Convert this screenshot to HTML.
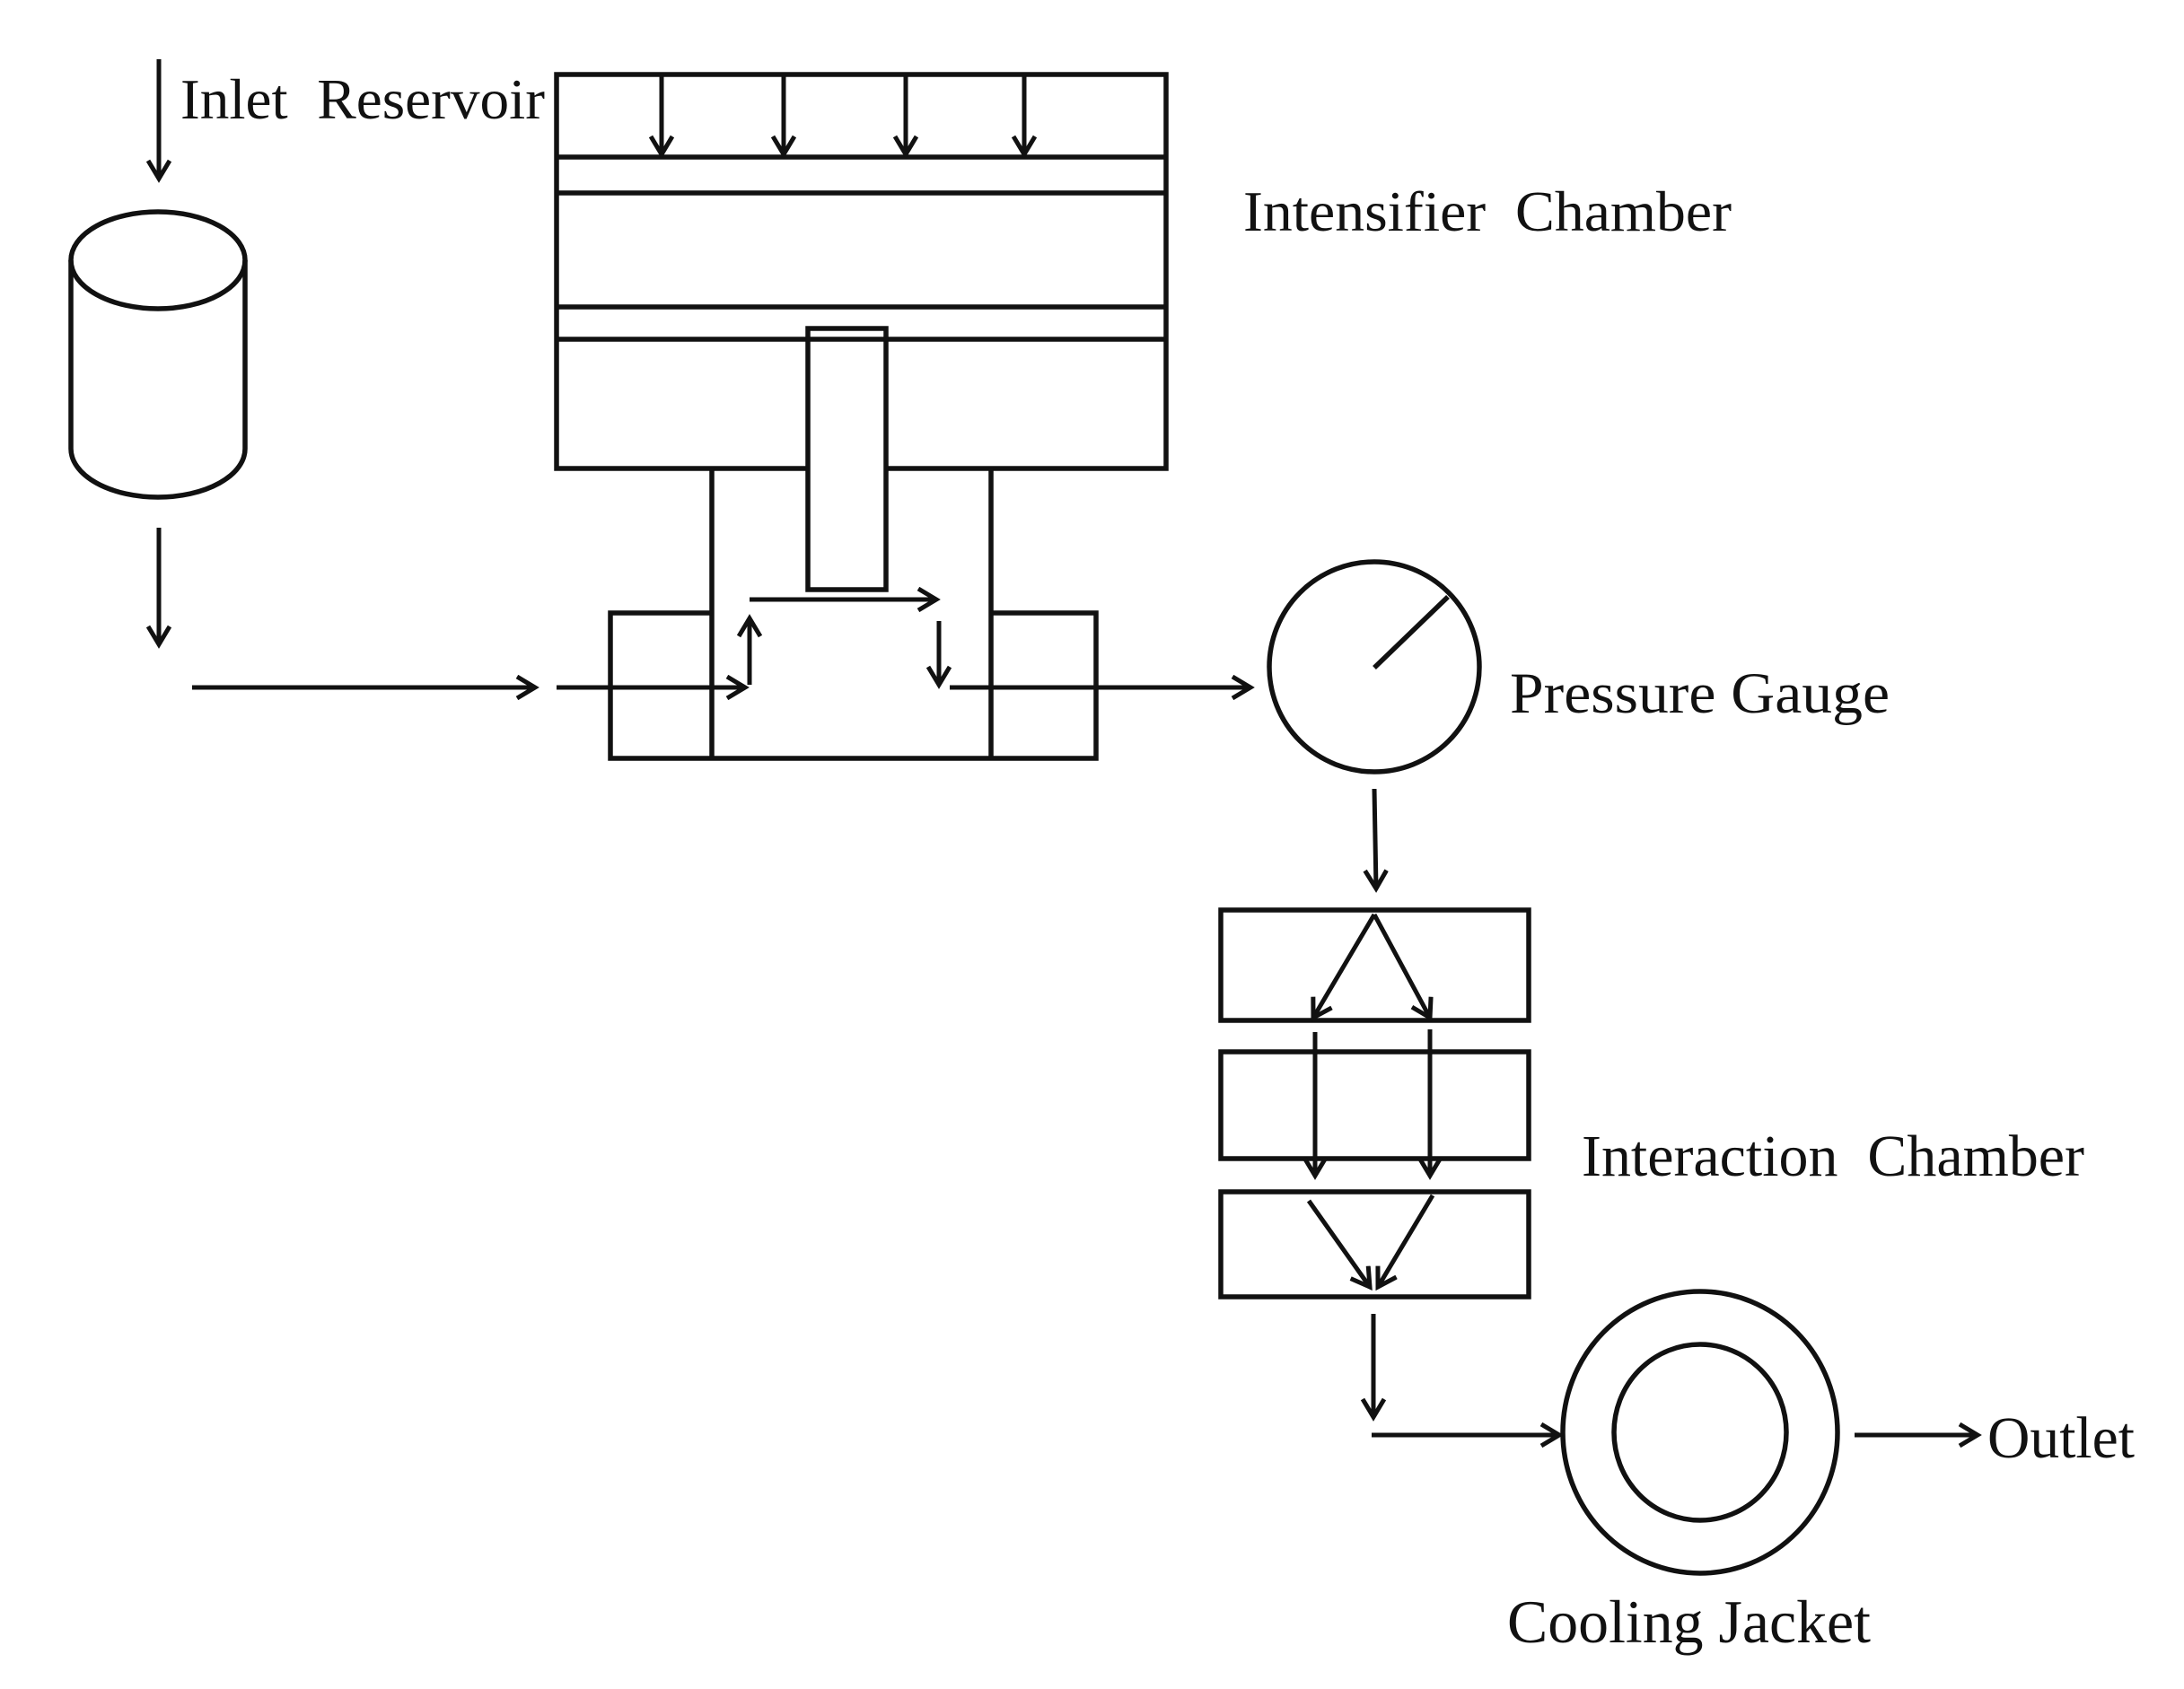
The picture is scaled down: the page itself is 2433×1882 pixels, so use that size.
<!DOCTYPE html>
<html><head><meta charset="utf-8"><style>
html,body{margin:0;padding:0;background:#fff;}
svg{display:block;}
text{font-family:"Liberation Serif",serif;fill:#111;}
</style></head><body>
<svg width="2433" height="1882" viewBox="0 0 2433 1882" xmlns="http://www.w3.org/2000/svg">
<defs>
<marker id="a" markerUnits="userSpaceOnUse" markerWidth="40" markerHeight="40" refX="22" refY="14" orient="auto">
<path d="M2,2 L22,14 L2,26" fill="none" stroke="#111" stroke-width="5"/>
</marker>
</defs>
<g fill="none" stroke="#111" stroke-width="5.5">
<ellipse cx="176" cy="290" rx="97" ry="54"/>
<path d="M79,290 L79,500 A97,54 0 0 0 273,500 L273,290"/>
<rect x="620" y="83" width="679" height="439"/>
<line x1="620" y1="175" x2="1299" y2="175"/>
<line x1="620" y1="215" x2="1299" y2="215"/>
<line x1="620" y1="342" x2="1299" y2="342"/>
<line x1="620" y1="378" x2="1299" y2="378"/>
<rect x="900" y="366" width="87" height="291" fill="#fff"/>
<line x1="900" y1="378" x2="987" y2="378"/>
<path d="M793,522 L793,845 M1104,522 L1104,845"/>
<path d="M793,683 L680,683 L680,845 L1221,845 L1221,683 L1104,683"/>
<rect x="1360" y="1014" width="343" height="123"/>
<rect x="1360" y="1172" width="343" height="119"/>
<rect x="1360" y="1328" width="343" height="117"/>
<circle cx="1531" cy="743" r="117"/>
<line x1="1531" y1="744" x2="1613" y2="665"/>
<ellipse cx="1894" cy="1596" rx="153" ry="157"/>
<ellipse cx="1894" cy="1596" rx="96" ry="98"/>
</g>
<g fill="none" stroke="#111" stroke-width="5" marker-end="url(#a)">
<line x1="177" y1="66" x2="177" y2="199"/>
<line x1="177" y1="588" x2="177" y2="718"/>
<line x1="737" y1="83" x2="737" y2="172"/>
<line x1="873" y1="83" x2="873" y2="172"/>
<line x1="1009" y1="83" x2="1009" y2="172"/>
<line x1="1141" y1="83" x2="1141" y2="172"/>
<line x1="214" y1="766" x2="596" y2="766"/>
<line x1="620" y1="766" x2="830" y2="766"/>
<line x1="835" y1="763" x2="835" y2="689"/>
<line x1="835" y1="668" x2="1043" y2="668"/>
<line x1="1046" y1="692" x2="1046" y2="763"/>
<line x1="1058" y1="766" x2="1393" y2="766"/>
<line x1="1531" y1="879" x2="1533" y2="990"/>
<line x1="1531" y1="1019" x2="1463" y2="1134"/>
<line x1="1531" y1="1019" x2="1593" y2="1134"/>
<line x1="1465" y1="1150" x2="1465" y2="1310"/>
<line x1="1593" y1="1147" x2="1593" y2="1310"/>
<line x1="1458" y1="1338" x2="1526" y2="1434"/>
<line x1="1596" y1="1332" x2="1535" y2="1434"/>
<line x1="1530" y1="1464" x2="1530" y2="1579"/>
<line x1="1528" y1="1599" x2="1737" y2="1599"/>
<line x1="2066" y1="1599" x2="2203" y2="1599"/>
</g>
<text x="201" y="132" font-size="64" textLength="406" lengthAdjust="spacingAndGlyphs" xml:space="preserve">Inlet  Reservoir</text>
<text x="1385" y="257" font-size="64" textLength="544" lengthAdjust="spacingAndGlyphs" xml:space="preserve">Intensifier  Chamber</text>
<text x="1682" y="794" font-size="65" textLength="423" lengthAdjust="spacingAndGlyphs">Pressure Gauge</text>
<text x="1762" y="1310" font-size="66" textLength="560" lengthAdjust="spacingAndGlyphs" xml:space="preserve">Interaction  Chamber</text>
<text x="2214" y="1624" font-size="66" textLength="164" lengthAdjust="spacingAndGlyphs">Outlet</text>
<text x="1679" y="1830" font-size="68" textLength="405" lengthAdjust="spacingAndGlyphs">Cooling Jacket</text>
</svg>
</body></html>
